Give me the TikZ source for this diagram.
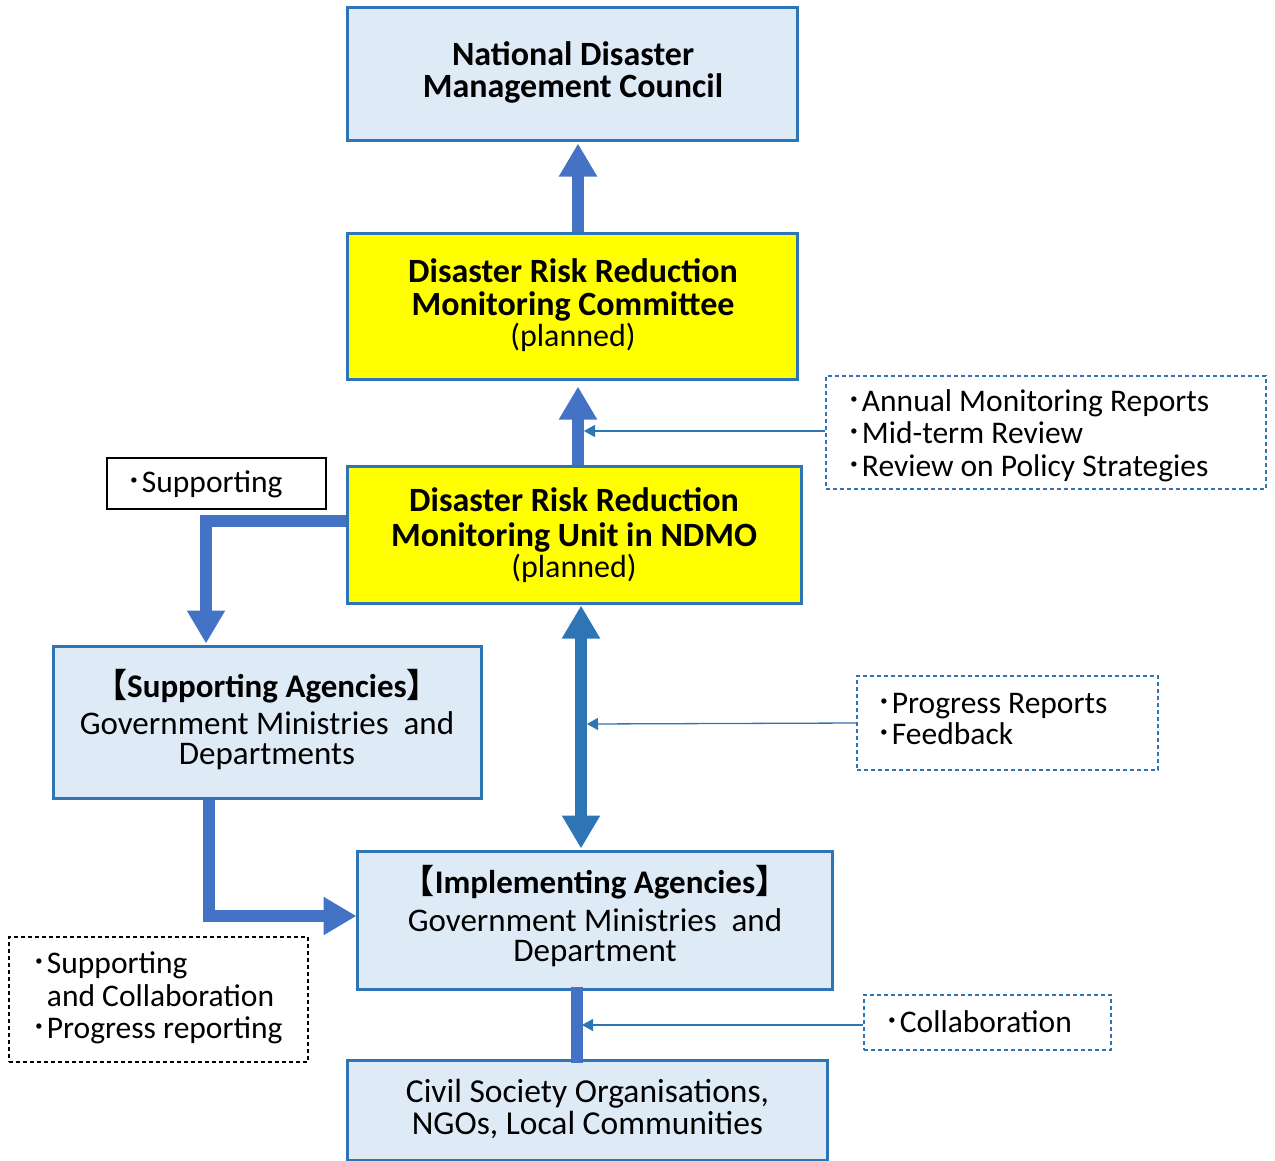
\documentclass[tikz,border=0pt]{standalone}
\usepackage{fontspec}
\setmainfont{Carlito}
\newfontfamily\cjk{Noto Sans CJK JP}
\newcommand{\bul}{{\cjk ･}}
\usetikzlibrary{arrows.meta}
\definecolor{bdr}{HTML}{2E75B6}
\definecolor{fillb}{HTML}{DEEBF7}
\definecolor{arr}{HTML}{4472C4}
\definecolor{yel}{HTML}{FFFF00}
\begin{document}
\begin{tikzpicture}[x=1pt,y=-1pt,
  box/.style={draw=bdr,line width=3pt,fill=fillb,inner sep=0pt},
  ybox/.style={box,fill=yel},
  notebox/.style={draw=bdr,line width=1.2pt,dash pattern=on 4pt off 3pt,inner sep=0pt},
  tt/.style={anchor=base,inner sep=0pt,text height=22pt,text depth=7pt,font=\fontsize{34}{34}\selectfont\bfseries},
  pl/.style={anchor=base,inner sep=0pt,text height=21pt,text depth=6pt,font=\fontsize{32}{32}\selectfont},
  bd/.style={anchor=base,inner sep=0pt,text height=21pt,text depth=6pt,font=\fontsize{33}{33}\selectfont},
  hd/.style={anchor=base,inner sep=0pt,text height=24pt,text depth=7pt,font=\fontsize{33}{33}\selectfont\bfseries},
  cv/.style={anchor=base,inner sep=0pt,text height=20pt,text depth=5pt,font=\fontsize{33.5}{34}\selectfont},
  nt/.style={anchor=base west,inner sep=0pt,text height=21pt,text depth=6pt,font=\fontsize{31.5}{32}\selectfont},
  thick arrow/.style={draw=arr,line width=12pt,-{Triangle[width=36pt,length=33pt]}},
  thin arrow/.style={draw=bdr,line width=1.3pt,-{Triangle[width=12pt,length=11pt]}}
]
\useasboundingbox (0,0) rectangle (1275,1160);

% main boxes
\node[box,minimum width=450pt,minimum height=133pt] (ndmc) at (572,73.5) {};
\node[tt] (ndmc1) at (573,65) {National Disaster};
\node[tt] (ndmc2) at (573,97) {Management Council};

\node[ybox,minimum width=450pt,minimum height=146pt] (comm) at (572,306) {};
\node[tt] (comm1) at (573,282) {Disaster Risk Reduction};
\node[tt] (comm2) at (573,315) {Monitoring Committee};
\node[pl] (comm3) at (573,346) {(planned)};

\node[ybox,minimum width=454pt,minimum height=137pt] (unit) at (574,534.5) {};
\node[tt] (unit1) at (574,511) {Disaster Risk Reduction};
\node[tt] (unit2) at (574,546) {Monitoring Unit in NDMO};
\node[pl] (unit3) at (574,577) {(planned)};

\node[box,minimum width=428pt,minimum height=152pt] (supag) at (267,722) {};
\node[hd] (supag1) at (267,697) {{\cjk 【}Supporting Agencies{\cjk 】}};
\node[bd] (supag2) at (267,734) {Government Ministries\ \ and};
\node[bd] (supag3) at (267,764) {Departments};

\node[box,minimum width=475pt,minimum height=138pt] (imp) at (594.5,920) {};
\node[hd] (imp1) at (595,893) {{\cjk 【}Implementing Agencies{\cjk 】}};
\node[bd] (imp2) at (595,931) {Government Ministries\ \ and};
\node[bd] (imp3) at (595,961) {Department};

\node[box,minimum width=480pt,minimum height=100pt] (civ) at (587,1110) {};
\node[cv] (civ1) at (587.5,1102) {Civil Society Organisations,};
\node[cv] (civ2) at (587.5,1134) {NGOs, Local Communities};

% note boxes
\node[notebox,minimum width=440pt,minimum height=113pt] (annual) at (1046,432.5) {};
\node[nt] (annual1) at (846,411) {\bul Annual Monitoring Reports};
\node[nt] (annual2) at (846,443) {\bul Mid-term Review};
\node[nt] (annual3) at (846,476) {\bul Review on Policy Strategies};

\node[notebox,minimum width=301pt,minimum height=94pt] (prog) at (1007.5,723) {};
\node[nt] (prog1) at (876,713) {\bul Progress Reports};
\node[nt] (prog2) at (876,744) {\bul Feedback};

\node[notebox,minimum width=247pt,minimum height=55pt] (collab) at (987.5,1022.5) {};
\node[nt] (collab1) at (884,1032) {\bul Collaboration};

\node[notebox,draw=black,minimum width=299pt,minimum height=125pt] (leftnote) at (158.5,999.5) {};
\node[nt] (left1) at (31,973) {\bul Supporting};
\node[nt] (left2) at (31,1006) {\phantom{\bul}and Collaboration};
\node[nt] (left3) at (31,1038) {\bul Progress reporting};

\node[notebox,draw=black,solid,minimum width=219pt,minimum height=51pt] (supp) at (216.5,483.5) {};
\node[nt] (supp1) at (126,492) {\bul Supporting};

% thick connectors
\draw[thick arrow] ([xshift=6pt]comm.north) -- ([xshift=6pt,yshift=-2pt]ndmc.south);
\draw[thick arrow] ([xshift=4pt]unit.north) -- ([xshift=6pt,yshift=-6pt]comm.south);
\draw[draw=bdr,line width=12pt,{Triangle[width=36pt,length=33pt]}-{Triangle[width=36pt,length=33pt]}]
  ([xshift=7pt,yshift=-1pt]unit.south) -- ([xshift=-13.5pt,yshift=1pt]imp.north);
\draw[thick arrow] ([yshift=13.5pt]unit.west) -| ([xshift=-61pt,yshift=1pt]supag.north);
\draw[thick arrow] ([xshift=-58pt]supag.south) |- ([yshift=4pt,xshift=1pt]imp.west);
\draw[draw=arr,line width=12pt] ([xshift=-17.5pt,yshift=4pt]imp.south) -- ([xshift=-10pt,yshift=-4pt]civ.north);

% thin connectors
\coordinate (s1) at (584,431);
\coordinate (s2) at (587,724);
\coordinate (s3) at (582,1025);
\draw[thin arrow] (annual.west |- s1) -- (s1);
\draw[thin arrow] (prog.west) -- (s2);
\draw[thin arrow] (collab.west |- s3) -- (s3);
\end{tikzpicture}
\end{document}
